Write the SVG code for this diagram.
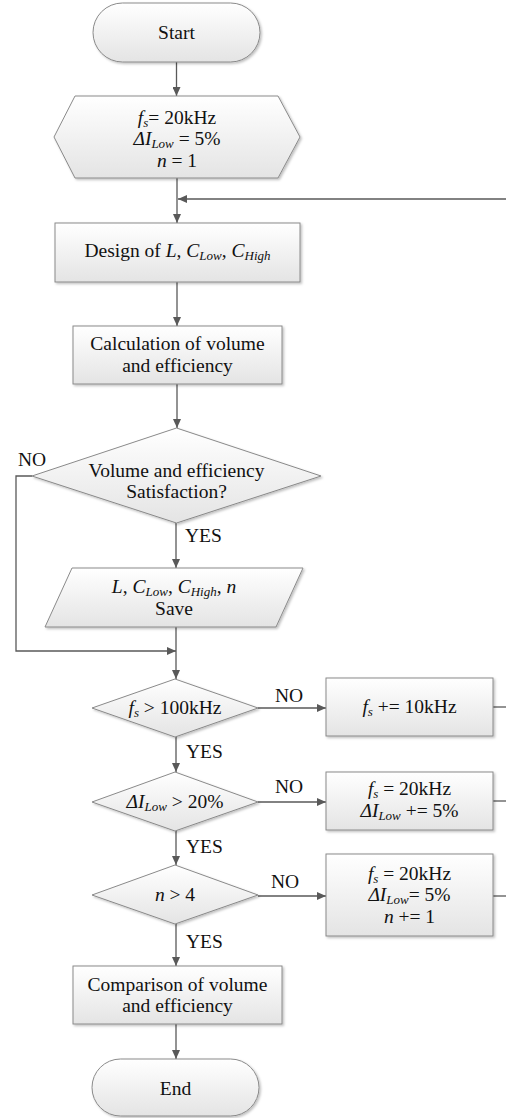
<svg xmlns="http://www.w3.org/2000/svg" width="506" height="1118" viewBox="0 0 506 1118" font-family="Liberation Serif, serif">
<defs>
<linearGradient id="g" x1="0" y1="0" x2="0" y2="1">
<stop offset="0" stop-color="#ffffff"/>
<stop offset="1" stop-color="#e4e4e4"/>
</linearGradient>
<filter id="sh" x="-10%" y="-10%" width="120%" height="130%">
<feDropShadow dx="1.5" dy="1.5" stdDeviation="1" flood-color="#000" flood-opacity="0.25"/>
</filter>
<marker id="ah" markerWidth="10" markerHeight="8" refX="9" refY="4" orient="auto" markerUnits="userSpaceOnUse">
<path d="M0,0 L9,4 L0,8 Z" fill="#595959"/>
</marker>
</defs>
<style>
.n{fill:url(#g);stroke:#8a8a8a;stroke-width:1;filter:url(#sh)}
.c{fill:none;stroke:#595959;stroke-width:1.3}
.a{marker-end:url(#ah)}
text{font-size:19.5px;fill:#111;text-anchor:middle}
.i{font-style:italic}
.s{font-size:13px;font-style:italic}
.l{text-anchor:start}
</style>

<g id="connectors">
<line class="c a" x1="176.5" y1="62" x2="176.5" y2="96"/>
<line class="c a" x1="177" y1="178" x2="177" y2="223"/>
<polyline class="c a" points="512,199 178,199"/>
<line class="c a" x1="177" y1="282" x2="177" y2="326"/>
<line class="c a" x1="177" y1="384" x2="177" y2="428"/>
<line class="c a" x1="176" y1="523" x2="176" y2="568"/>
<polyline class="c a" points="32,476 16,476 16,651 176,651"/>
<line class="c a" x1="176" y1="627" x2="176" y2="679"/>
<line class="c a" x1="258" y1="708" x2="326" y2="708"/>
<line class="c a" x1="176" y1="737" x2="176" y2="772"/>
<line class="c a" x1="258" y1="802" x2="326" y2="802"/>
<line class="c a" x1="176" y1="831" x2="176" y2="865"/>
<line class="c a" x1="258" y1="896" x2="326" y2="896"/>
<line class="c a" x1="176" y1="924" x2="176" y2="966"/>
<line class="c a" x1="176" y1="1024" x2="176" y2="1059"/>
<line class="c" x1="493" y1="707" x2="512" y2="707"/>
<line class="c" x1="493" y1="801" x2="512" y2="801"/>
<line class="c" x1="493" y1="896" x2="512" y2="896"/>
<line class="c" x1="512" y1="896" x2="512" y2="199"/>
<text class="l" font-family="Liberation Serif, serif" x="18" y="466">NO</text>
<text class="l" font-family="Liberation Serif, serif" x="185" y="542">YES</text>
<text class="l" font-family="Liberation Serif, serif" x="275" y="702">NO</text>
<text class="l" font-family="Liberation Serif, serif" x="186" y="758">YES</text>
<text class="l" font-family="Liberation Serif, serif" x="275" y="793">NO</text>
<text class="l" font-family="Liberation Serif, serif" x="186" y="853">YES</text>
<text class="l" font-family="Liberation Serif, serif" x="271" y="888">NO</text>
<text class="l" font-family="Liberation Serif, serif" x="186" y="948">YES</text>
</g>

<g id="start">
<rect class="n" x="93" y="3" width="167" height="59" rx="29.5"/>
<text font-family="Liberation Serif, serif" x="176.5" y="39">Start</text>
</g>

<g id="init">
<polygon class="n" points="54,137 75,96 278,96 300,137 278,178 75,178"/>
<text font-family="Liberation Serif, serif" x="177" y="124"><tspan class="i">f</tspan><tspan class="s" dy="3">s</tspan><tspan dy="-3">= 20kHz</tspan></text>
<text font-family="Liberation Serif, serif" x="177" y="145"><tspan class="i">ΔI</tspan><tspan class="s" dy="3">Low</tspan><tspan dy="-3"> = 5%</tspan></text>
<text font-family="Liberation Serif, serif" x="177" y="167"><tspan class="i">n</tspan> = 1</text>
</g>

<g id="design">
<rect class="n" x="55" y="223" width="245" height="59"/>
<text font-family="Liberation Serif, serif" x="177.5" y="257">Design of <tspan class="i">L</tspan>, <tspan class="i">C</tspan><tspan class="s" dy="3">Low</tspan><tspan dy="-3">, </tspan><tspan class="i">C</tspan><tspan class="s" dy="3">High</tspan></text>
</g>

<g id="calc">
<rect class="n" x="73" y="326" width="209" height="58"/>
<text font-family="Liberation Serif, serif" x="177.5" y="350">Calculation of volume</text>
<text font-family="Liberation Serif, serif" x="177.5" y="372">and efficiency</text>
</g>

<g id="check">
<polygon class="n" points="32,476 176.5,428 321,476 176.5,523"/>
<text font-family="Liberation Serif, serif" x="176.5" y="477">Volume and efficiency</text>
<text font-family="Liberation Serif, serif" x="176.5" y="498">Satisfaction?</text>
</g>

<g id="save">
<polygon class="n" points="72,568 303,568 276,627 45,627"/>
<text font-family="Liberation Serif, serif" x="174" y="593"><tspan class="i">L</tspan>, <tspan class="i">C</tspan><tspan class="s" dy="3">Low</tspan><tspan dy="-3">, </tspan><tspan class="i">C</tspan><tspan class="s" dy="3">High</tspan><tspan dy="-3">, </tspan><tspan class="i">n</tspan></text>
<text font-family="Liberation Serif, serif" x="174" y="615">Save</text>
</g>

<g id="dec-fs">
<polygon class="n" points="92,708 175,679 258,708 175,737"/>
<text font-family="Liberation Serif, serif" x="175" y="714"><tspan class="i">f</tspan><tspan class="s" dy="3">s</tspan><tspan dy="-3"> &gt; 100kHz</tspan></text>
</g>

<g id="inc-fs">
<rect class="n" x="326" y="678" width="167" height="58"/>
<text font-family="Liberation Serif, serif" x="409.5" y="713"><tspan class="i">f</tspan><tspan class="s" dy="3">s</tspan><tspan dy="-3"> += 10kHz</tspan></text>
</g>

<g id="dec-di">
<polygon class="n" points="92,802 175,772 258,802 175,831"/>
<text font-family="Liberation Serif, serif" x="175" y="808"><tspan class="i">ΔI</tspan><tspan class="s" dy="3">Low</tspan><tspan dy="-3"> &gt; 20%</tspan></text>
</g>

<g id="inc-di">
<rect class="n" x="326" y="772" width="167" height="58"/>
<text font-family="Liberation Serif, serif" x="409.5" y="795"><tspan class="i">f</tspan><tspan class="s" dy="3">s</tspan><tspan dy="-3"> = 20kHz</tspan></text>
<text font-family="Liberation Serif, serif" x="409.5" y="817"><tspan class="i">ΔI</tspan><tspan class="s" dy="3">Low</tspan><tspan dy="-3"> += 5%</tspan></text>
</g>

<g id="dec-n">
<polygon class="n" points="92,895 175,865 258,895 175,924"/>
<text font-family="Liberation Serif, serif" x="175" y="901"><tspan class="i">n</tspan> &gt; 4</text>
</g>

<g id="inc-n">
<rect class="n" x="326" y="854" width="167" height="82"/>
<text font-family="Liberation Serif, serif" x="409.5" y="880"><tspan class="i">f</tspan><tspan class="s" dy="3">s</tspan><tspan dy="-3"> = 20kHz</tspan></text>
<text font-family="Liberation Serif, serif" x="409.5" y="901"><tspan class="i">ΔI</tspan><tspan class="s" dy="3">Low</tspan><tspan dy="-3">= 5%</tspan></text>
<text font-family="Liberation Serif, serif" x="409.5" y="923"><tspan class="i">n</tspan> += 1</text>
</g>

<g id="compare">
<rect class="n" x="73" y="966" width="209" height="58"/>
<text font-family="Liberation Serif, serif" x="177.5" y="991">Comparison of volume</text>
<text font-family="Liberation Serif, serif" x="177.5" y="1012">and efficiency</text>
</g>

<g id="end">
<rect class="n" x="92" y="1059" width="167" height="57" rx="28.5"/>
<text font-family="Liberation Serif, serif" x="175.5" y="1095">End</text>
</g>
</svg>
